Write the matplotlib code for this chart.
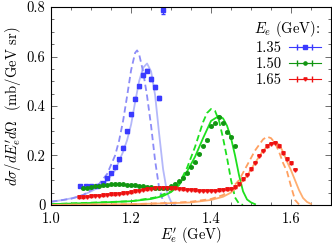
import numpy as np
import matplotlib
matplotlib.use('Agg')
import matplotlib.pyplot as plt

plt.rcParams['font.family'] = 'cmr10'
plt.rcParams['mathtext.fontset'] = 'cm'
plt.rcParams['axes.unicode_minus'] = False
plt.rcParams['axes.formatter.use_mathtext'] = True

# data points (E_e = 1.35, 1.50, 1.65 GeV)
x135 = [1.071, 1.086, 1.100, 1.114, 1.129, 1.139, 1.150, 1.160, 1.170, 1.180,
        1.190, 1.200, 1.210, 1.219, 1.230, 1.240, 1.250, 1.260, 1.270, 1.280]
y135 = [0.077, 0.076, 0.077, 0.078, 0.089, 0.108, 0.129, 0.152, 0.184, 0.232,
        0.297, 0.367, 0.429, 0.479, 0.525, 0.543, 0.509, 0.476, 0.433, 0.787]
e135 = [0.004, 0.004, 0.004, 0.004, 0.004, 0.004, 0.004, 0.004, 0.005, 0.005,
        0.005, 0.006, 0.006, 0.006, 0.007, 0.007, 0.007, 0.008, 0.009, 0.015]

x150 = [1.08, 1.09, 1.10, 1.11, 1.12, 1.13, 1.14, 1.15, 1.16, 1.17, 1.18, 1.19,
        1.20, 1.21, 1.22, 1.23, 1.24, 1.25, 1.26, 1.27, 1.28, 1.29, 1.30, 1.31,
        1.32, 1.33, 1.34, 1.35, 1.36, 1.37, 1.38, 1.39, 1.40, 1.41, 1.42, 1.43,
        1.44, 1.45, 1.46]
y150 = [0.068, 0.070, 0.072, 0.075, 0.078, 0.080, 0.082, 0.083, 0.084, 0.084,
        0.083, 0.082, 0.081, 0.080, 0.078, 0.075, 0.073, 0.071, 0.070, 0.069,
        0.069, 0.070, 0.075, 0.085, 0.095, 0.110, 0.130, 0.155, 0.172, 0.207,
        0.240, 0.262, 0.320, 0.330, 0.355, 0.333, 0.295, 0.275, 0.240]
e150 = [0.003] * len(x150)

x165 = [1.07, 1.08, 1.09, 1.10, 1.11, 1.12, 1.13, 1.14, 1.15, 1.16, 1.17, 1.18,
        1.19, 1.20, 1.21, 1.22, 1.23, 1.24, 1.25, 1.26, 1.27, 1.28, 1.29, 1.30,
        1.31, 1.32, 1.33, 1.34, 1.35, 1.36, 1.37, 1.38, 1.39, 1.40, 1.41, 1.42,
        1.43, 1.44, 1.45, 1.46, 1.47, 1.48, 1.49, 1.50, 1.51, 1.52, 1.53, 1.54,
        1.55, 1.56, 1.57, 1.58, 1.59, 1.60, 1.61]
y165 = [0.031, 0.032, 0.034, 0.035, 0.037, 0.038, 0.040, 0.041, 0.043, 0.044,
        0.046, 0.048, 0.050, 0.052, 0.055, 0.058, 0.061, 0.063, 0.066, 0.068,
        0.069, 0.068, 0.067, 0.068, 0.067, 0.066, 0.064, 0.062, 0.061, 0.059,
        0.058, 0.057, 0.057, 0.057, 0.058, 0.059, 0.061, 0.064, 0.066, 0.072,
        0.083, 0.103, 0.123, 0.145, 0.170, 0.198, 0.220, 0.238, 0.248, 0.252,
        0.238, 0.208, 0.185, 0.168, 0.143]
e165 = [0.002] * len(x165)

# model curves, solid and dashed
xb_s = [1.00, 1.03, 1.06, 1.08, 1.10, 1.12, 1.14, 1.16, 1.18, 1.19, 1.20, 1.21,
        1.22, 1.23, 1.24, 1.25, 1.26, 1.27, 1.28, 1.29, 1.30, 1.31]
yb_s = [0.013, 0.020, 0.030, 0.040, 0.055, 0.072, 0.098, 0.140, 0.215, 0.262,
        0.325, 0.415, 0.500, 0.555, 0.572, 0.540, 0.445, 0.290, 0.145, 0.050,
        0.012, 0.0]
xb_d = [1.00, 1.05, 1.08, 1.10, 1.12, 1.14, 1.16, 1.17, 1.18, 1.19, 1.20, 1.21,
        1.215, 1.22, 1.23, 1.24, 1.25, 1.26, 1.27, 1.28, 1.29]
yb_d = [0.013, 0.025, 0.040, 0.060, 0.085, 0.125, 0.200, 0.260, 0.340, 0.440,
        0.545, 0.615, 0.625, 0.610, 0.540, 0.440, 0.320, 0.180, 0.070, 0.015, 0.0]

xg_s = [1.00, 1.10, 1.20, 1.25, 1.28, 1.30, 1.32, 1.34, 1.36, 1.38, 1.40, 1.42,
        1.43, 1.44, 1.45, 1.46, 1.47, 1.48, 1.49, 1.50, 1.51]
yg_s = [0.003, 0.008, 0.015, 0.024, 0.036, 0.052, 0.080, 0.135, 0.195, 0.270,
        0.340, 0.360, 0.350, 0.320, 0.270, 0.200, 0.120, 0.055, 0.022, 0.010, 0.003]
xg_d = [1.00, 1.20, 1.26, 1.30, 1.32, 1.34, 1.36, 1.38, 1.39, 1.40, 1.41, 1.42,
        1.43, 1.44, 1.45, 1.46, 1.47, 1.48]
yg_d = [0.003, 0.015, 0.030, 0.055, 0.085, 0.150, 0.235, 0.335, 0.372, 0.388,
        0.380, 0.340, 0.270, 0.190, 0.100, 0.030, 0.005, 0.0]

xo_s = [1.00, 1.20, 1.30, 1.35, 1.40, 1.43, 1.45, 1.47, 1.49, 1.51, 1.53, 1.55,
        1.56, 1.57, 1.58, 1.59, 1.60, 1.61, 1.62, 1.63, 1.64, 1.65]
yo_s = [0.0, 0.003, 0.007, 0.010, 0.020, 0.033, 0.050, 0.080, 0.118, 0.170,
        0.220, 0.250, 0.253, 0.245, 0.215, 0.175, 0.140, 0.100, 0.060, 0.028,
        0.012, 0.004]
xo_d = [1.00, 1.20, 1.30, 1.35, 1.40, 1.43, 1.45, 1.47, 1.49, 1.51, 1.53, 1.54,
        1.55, 1.56, 1.57, 1.58, 1.59, 1.60, 1.61, 1.62]
yo_d = [0.0, 0.003, 0.008, 0.013, 0.024, 0.040, 0.065, 0.100, 0.160, 0.220,
        0.265, 0.276, 0.270, 0.250, 0.215, 0.170, 0.135, 0.075, 0.020, 0.002]

labels = ['1.35', '1.50', '1.65']
pt_colors = ['#3a3aff', '#129612', '#ee1111']
curve_colors = ['#b4b8fa', '#1ee01e', '#ffae70']
dash_colors = ['#8c8cf8', '#1ee01e', '#ffa060']
markers = ['s', 'o', 'v']

fig = plt.figure(figsize=(3.32, 2.46), dpi=100)
ax = fig.add_axes([0.154, 0.167, 0.843, 0.804])

ax.plot(xb_s, yb_s, color=curve_colors[0], lw=1.3)
ax.plot(xb_d, yb_d, color=dash_colors[0], lw=1.3, dashes=(3.5, 2))
ax.plot(xg_s, yg_s, color=curve_colors[1], lw=1.3)
ax.plot(xg_d, yg_d, color=dash_colors[1], lw=1.3, dashes=(3.5, 2))
ax.plot(xo_s, yo_s, color=curve_colors[2], lw=1.3)
ax.plot(xo_d, yo_d, color=dash_colors[2], lw=1.3, dashes=(3.5, 2))

for xs, ys, es, c, m in zip([x135, x150, x165], [y135, y150, y165],
                            [e135, e150, e165], pt_colors, markers):
    ax.errorbar(xs, ys, yerr=es, fmt=m, color=c, ms=2.5, lw=0.8,
                capsize=1.2, elinewidth=0.8)

# legend handles
handles = []
for c, m in zip(pt_colors, markers):
    h = ax.errorbar([np.nan], [np.nan], xerr=[1], fmt='-' + m, color=c,
                    ms=2.3, lw=0.8, capsize=2)
    handles.append(h)
leg = ax.legend(handles, labels, title=r'$E_e$ (GeV):', loc='upper right',
                frameon=False, markerfirst=False, fontsize=10.5,
                title_fontsize=10.5, handlelength=2.2, handletextpad=0.5,
                labelspacing=0.15, borderaxespad=0.3, alignment='right',
                bbox_to_anchor=(1.0, 0.99))

ax.set_xlim(1.0, 1.7)
ax.set_ylim(0, 0.8)
ax.set_xticks([1.0, 1.2, 1.4, 1.6])
ax.set_xticklabels(['1.0', '1.2', '1.4', '1.6'])
ax.set_yticks([0, 0.2, 0.4, 0.6, 0.8])
ax.set_yticklabels(['0', '0.2', '0.4', '0.6', '0.8'])
ax.set_xticks(np.arange(1.0, 1.7001, 0.05), minor=True)
ax.set_yticks(np.arange(0, 0.8001, 0.05), minor=True)
ax.tick_params(which='both', direction='in', top=True, right=True,
               labelsize=10.5, width=0.6, color='#555555')
ax.tick_params(which='major', length=4)
ax.tick_params(axis='x', which='major', pad=5)
ax.tick_params(axis='y', which='major', pad=4)
ax.tick_params(which='minor', length=2)
for s in ax.spines.values():
    s.set_linewidth(0.8)

ax.set_xlabel(r"$E_e'$ (GeV)", fontsize=10.5, labelpad=-0.5)
ax.set_ylabel(r"$d\sigma/dE_e'd\Omega$  (mb/GeV sr)", fontsize=10.5, labelpad=3)

fig.savefig('out.png', dpi=100)
